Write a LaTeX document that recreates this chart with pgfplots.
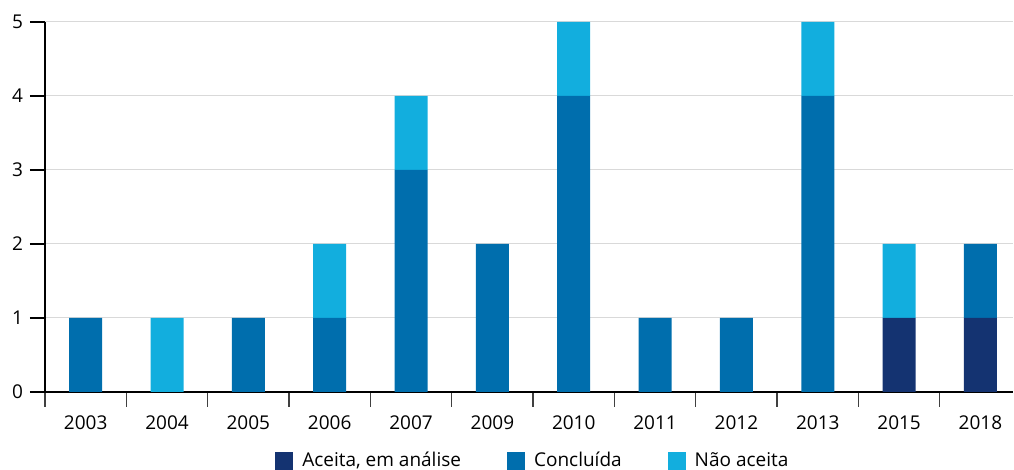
\documentclass[border=0pt]{standalone}
\usepackage{pgfplots}
\pgfplotsset{compat=1.18}
\usepackage{pgfplotstable}
\usepackage{fontspec}
\setmainfont{Open Sans}
\definecolor{cnavy}{HTML}{143371}
\definecolor{cmid}{HTML}{006EAD}
\definecolor{clight}{HTML}{12AEDE}
\definecolor{cgrid}{HTML}{D9D9D9}
\pgfplotstableread{
x aceita concluida naoaceita
0 0 1 0
1 0 0 1
2 0 1 0
3 0 1 1
4 0 3 1
5 0 2 0
6 0 4 1
7 0 1 0
8 0 1 0
9 0 4 1
10 1 0 1
11 1 1 0
}\datatable
\begin{document}
\begin{tikzpicture}
\useasboundingbox (-22.5pt,-39pt) rectangle (484.5pt,196pt);
\begin{axis}[
  scale only axis,
  width=484pt, height=185pt,
  at={(0,0)}, anchor=south west,
  ybar stacked, bar width=16.5pt,
  xmin=-0.5, xmax=11.4, ymin=0, ymax=5,
  axis x line=bottom, axis y line=left,
  axis line style={-, black, line width=0.9pt},
  xtick={-0.5,0.5,...,10.5},
  xticklabels={},
  x tick style={draw=black!75, line width=0.6pt},
  extra x ticks={0,...,11},
  extra x tick labels={2003,2004,2005,2006,2007,2009,2010,2011,2012,2013,2015,2018},
  extra x tick style={major tick length=0pt, tick style={draw=none}},
  ytick={0,...,5},
  y tick style={draw=black, line width=0.6pt},
  tick align=outside, major tick length=7.5pt,
  ymajorgrids, grid style={cgrid, line width=0.5pt},
  tick label style={font=\fontsize{9.5}{10}\selectfont},
  x tick label style={yshift=-8.5pt},
  /pgf/number format/assume math mode=true,
  legend columns=-1,
  legend style={draw=none, at={(0.505,0)}, anchor=center, yshift=-34.5pt,
    font=\fontsize{9.5}{10}\selectfont,
    /tikz/every odd column/.append style={column sep=2.5pt},
    /tikz/every even column/.append style={column sep=21pt}},
  legend image code/.code={\fill[#1] (0pt,-4.5pt) rectangle (9pt,4.5pt);},
]
\addplot[fill=cnavy, draw=none] table[x=x, y=aceita] {\datatable};
\addplot[fill=cmid, draw=none] table[x=x, y=concluida] {\datatable};
\addplot[fill=clight, draw=none] table[x=x, y=naoaceita] {\datatable};
\legend{{Aceita, em análise}, Concluída, Não aceita}
\end{axis}
\end{tikzpicture}
\end{document}
